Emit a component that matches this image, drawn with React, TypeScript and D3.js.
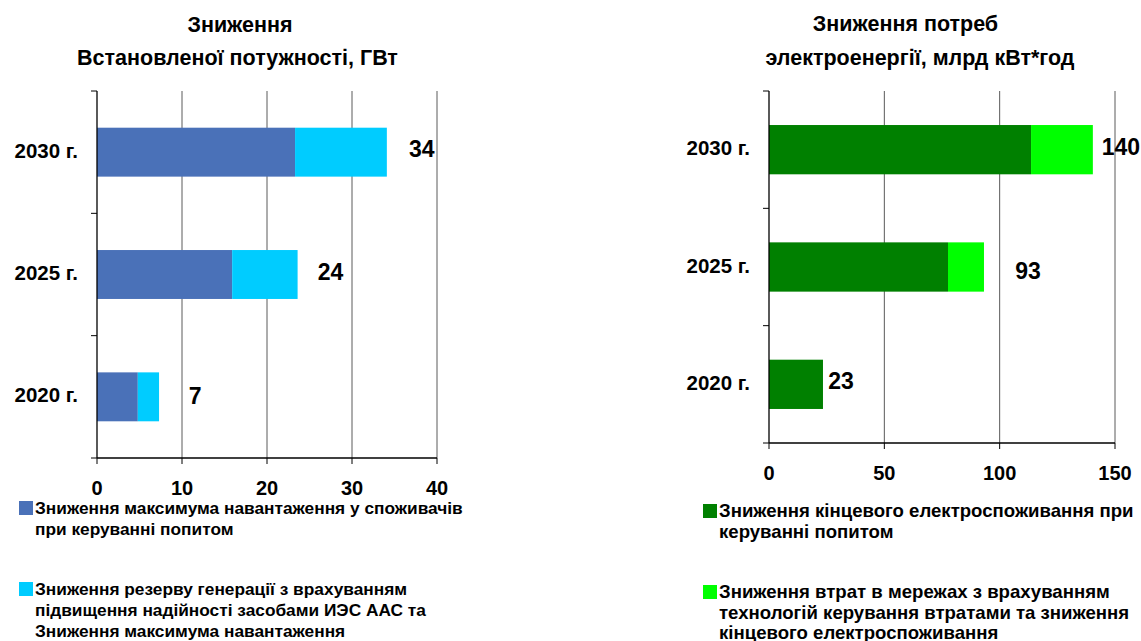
import React from 'react';
import * as d3 from 'd3';

// ---------- data ----------
const categories = ['2030 г.', '2025 г.', '2020 г.'];

const capDemandCut = [23.3, 15.9, 4.8];
const capReserveCut = [10.8, 7.7, 2.5];
const capTotals = ['34', '24', '7'];
const capTicks = [0, 10, 20, 30, 40];
const capTitle = ['Зниження', 'Встановленої потужності, ГВт'];
const capLegend = [
  ['Зниження максимума навантаження у споживачів', 'при керуванні попитом'],
  ['Зниження резерву генерації з врахуванням', 'підвищення надійності засобами ИЭС ААС та', 'Зниження максимума навантаження'],
];

const enFinalCut = [113.6, 77.6, 23.4];
const enLossCut = [26.8, 15.6, 0];
const enTotals = ['140', '93', '23'];
const enTicks = [0, 50, 100, 150];
const enTitle = ['Зниження потреб', 'электроенергії, млрд кВт*год'];
const enLegend = [
  ['Зниження кінцевого електроспоживання при', 'керуванні попитом'],
  ['Зниження втрат в мережах з врахуванням', 'технологій керування втратами та зниження', 'кінцевого електроспоживання'],
];

// ---------- styles / layout ----------
const FONT = '"Liberation Sans", Arial, Helvetica, sans-serif';

type PanelCfg = {
  left: number; right: number; top: number; bottom: number;
  padInner: number;
  max: number; ticks: number[];
  a: number[]; b: number[]; totals: string[];
  colors: [string, string];
  labelDx: number[]; labelDy: number[];
  title: string[]; titleX: number[]; titleY: number[];
  legend: string[][]; legendX: number; legendY: number[]; legendFont: number; legendLine: number;
};

const panels: PanelCfg[] = [
  {
    left: 97, right: 437, top: 91, bottom: 458, padInner: 0.6,
    max: 40, ticks: capTicks, a: capDemandCut, b: capReserveCut, totals: capTotals,
    colors: ['#4A71B8', '#00CCFF'],
    labelDx: [35, 33, 36], labelDy: [4.5, 5, 7.5],
    title: capTitle, titleX: [240, 237.5], titleY: [32, 65],
    legend: capLegend, legendX: 19, legendY: [514, 595], legendFont: 17.3, legendLine: 21,
  },
  {
    left: 769, right: 1115, top: 91, bottom: 443, padInner: 0.58,
    max: 150, ticks: enTicks, a: enFinalCut, b: enLossCut, totals: enTotals,
    colors: ['#008000', '#00FF00'],
    labelDx: [28, 44, 18], labelDy: [5.5, 12, 4.5],
    title: enTitle, titleX: [905.5, 920], titleY: [31, 65],
    legend: enLegend, legendX: 703, legendY: [517, 598], legendFont: 18.6, legendLine: 20.5,
  },
];

function Panel({ c }: { c: PanelCfg }) {
  const x = d3.scaleLinear().domain([0, c.max]).range([c.left, c.right]);
  const y = d3.scaleBand<string>().domain(categories).range([c.top, c.bottom])
    .paddingInner(c.padInner).paddingOuter(c.padInner / 2);
  const step = y.step();
  const bw = y.bandwidth();
  const catTicks = d3.range(categories.length + 1).map(i => c.top + i * step);
  return (
    <g>
      {c.title.map((t, i) => (
        <text key={'t' + i} x={c.titleX[i]} y={c.titleY[i]} textAnchor="middle"
          fontFamily={FONT} fontWeight="bold" fontSize={21.5} fill="#000">{t}</text>
      ))}
      {/* gridlines */}
      {c.ticks.filter(t => t > 0).map(t => (
        <line key={'g' + t} x1={x(t)} x2={x(t)} y1={c.top} y2={c.bottom} stroke="#5a5a5a" strokeWidth={1} />
      ))}
      {/* bars */}
      {categories.map((cat, i) => (
        <g key={cat}>
          <rect x={x(0)} y={y(cat)} width={x(c.a[i]) - x(0)} height={bw} fill={c.colors[0]} />
          <rect x={x(c.a[i])} y={y(cat)} width={x(c.a[i] + c.b[i]) - x(c.a[i])} height={bw} fill={c.colors[1]} />
          <text x={x(c.a[i] + c.b[i]) + c.labelDx[i]} y={(y(cat) as number) + bw / 2 + c.labelDy[i]}
            textAnchor="middle" fontFamily={FONT} fontWeight="bold" fontSize={23} fill="#000">{c.totals[i]}</text>
          <text x={c.left - 19} y={(y(cat) as number) + bw / 2 + 5.5} textAnchor="end"
            fontFamily={FONT} fontWeight="bold" fontSize={20.5} fill="#000">{cat}</text>
        </g>
      ))}
      {/* axes */}
      <line x1={c.left} x2={c.left} y1={c.top} y2={c.bottom} stroke="#000" strokeWidth={1.3} />
      <line x1={c.left} x2={c.right} y1={c.bottom} y2={c.bottom} stroke="#000" strokeWidth={1.3} />
      {catTicks.map((t, i) => (
        <line key={'ct' + i} x1={c.left - 6} x2={c.left} y1={t} y2={t} stroke="#000" strokeWidth={1} />
      ))}
      {c.ticks.map(t => (
        <g key={'xt' + t}>
          <line x1={x(t)} x2={x(t)} y1={c.bottom} y2={c.bottom + 6} stroke="#000" strokeWidth={1} />
          <text x={x(t)} y={c.bottom + 37} textAnchor="middle" fontFamily={FONT} fontWeight="bold"
            fontSize={20} fill="#000">{t}</text>
        </g>
      ))}
      {/* legend */}
      {c.legend.map((lines, i) => (
        <g key={'l' + i}>
          <rect x={c.legendX} y={c.legendY[i] - 13} width={14} height={14} fill={c.colors[i]} />
          {lines.map((ln, j) => (
            <text key={j} x={c.legendX + 16} y={c.legendY[i] + j * c.legendLine} fontFamily={FONT} fontWeight="bold"
              fontSize={c.legendFont} fill="#000">{ln}</text>
          ))}
        </g>
      ))}
    </g>
  );
}

export default function App() {
  return (
    <svg width={1141} height={641} style={{ position: 'absolute', left: 0, top: 0, background: '#fff' }}>
      <rect width={1141} height={641} fill="#fff" />
      {panels.map((p, i) => <Panel key={i} c={p} />)}
    </svg>
  );
}
